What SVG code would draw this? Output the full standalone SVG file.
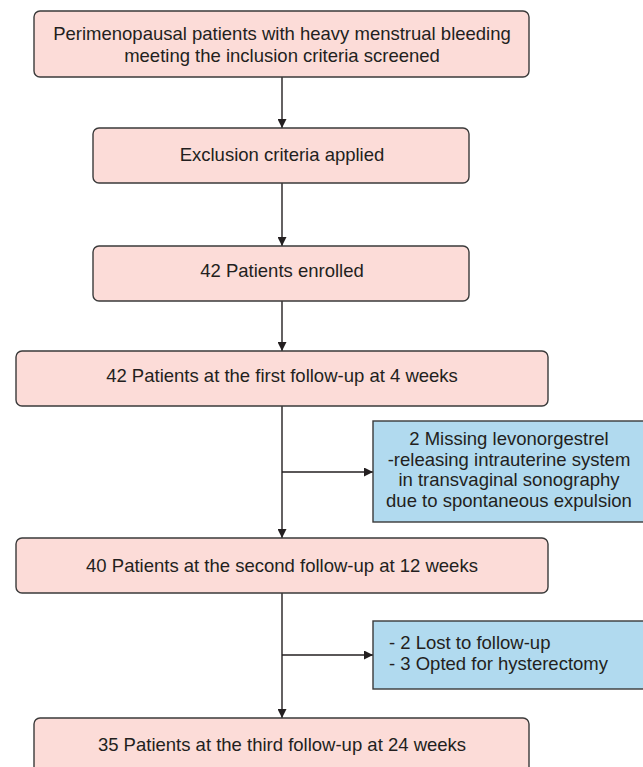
<svg xmlns="http://www.w3.org/2000/svg" width="643" height="767" viewBox="0 0 643 767">
  <style>
    .pink { fill: #fcdcd8; stroke: #3a3a3a; stroke-width: 1.4; }
    .blue { fill: #b1daef; stroke: #3a3a3a; stroke-width: 1.4; }
    text { font-family: "Liberation Sans", Arial, sans-serif; font-size: 18.5px; fill: #231f20; }
    .c { text-anchor: middle; }
    .conn { stroke: #231f20; stroke-width: 1.4; fill: none; }
  </style>
  <defs>
    <marker id="arr" viewBox="0 0 10 10" refX="10" refY="5" markerWidth="9" markerHeight="9" markerUnits="userSpaceOnUse" orient="auto">
      <path d="M0,0 L10,5 L0,10 z" fill="#231f20"/>
    </marker>
  </defs>
  <rect width="643" height="767" fill="#ffffff"/>

  <g id="connectors">
    <line class="conn" x1="282" y1="77" x2="282" y2="128" marker-end="url(#arr)"/>
    <line class="conn" x1="282" y1="183" x2="282" y2="246" marker-end="url(#arr)"/>
    <line class="conn" x1="282" y1="301" x2="282" y2="351" marker-end="url(#arr)"/>
    <line class="conn" x1="282" y1="406" x2="282" y2="538" marker-end="url(#arr)"/>
    <line class="conn" x1="282" y1="472" x2="373" y2="472" marker-end="url(#arr)"/>
    <line class="conn" x1="282" y1="593" x2="282" y2="718" marker-end="url(#arr)"/>
    <line class="conn" x1="282" y1="655" x2="373" y2="655" marker-end="url(#arr)"/>
  </g>

  <g id="screened">
    <rect class="pink" x="34" y="11" width="495" height="66" rx="6"/>
    <text class="c" x="282" y="40">Perimenopausal patients with heavy menstrual bleeding</text>
    <text class="c" x="282" y="62">meeting the inclusion criteria screened</text>
  </g>
  <g id="exclusion">
    <rect class="pink" x="93" y="128" width="376" height="55" rx="6"/>
    <text class="c" x="282" y="161">Exclusion criteria applied</text>
  </g>
  <g id="enrolled">
    <rect class="pink" x="93" y="246" width="376" height="55" rx="6"/>
    <text class="c" x="282" y="277">42 Patients enrolled</text>
  </g>
  <g id="followup1">
    <rect class="pink" x="16" y="351" width="532" height="55" rx="6"/>
    <text class="c" x="282" y="382">42 Patients at the first follow-up at 4 weeks</text>
  </g>
  <g id="excluded1">
    <rect class="blue" x="373" y="421" width="273" height="101"/>
    <text class="c" x="509" y="445">2 Missing levonorgestrel</text>
    <text class="c" x="509" y="466">-releasing intrauterine system</text>
    <text class="c" x="509" y="486">in transvaginal sonography</text>
    <text class="c" x="509" y="507">due to spontaneous expulsion</text>
  </g>
  <g id="followup2">
    <rect class="pink" x="16" y="538" width="532" height="55" rx="6"/>
    <text class="c" x="282" y="572">40 Patients at the second follow-up at 12 weeks</text>
  </g>
  <g id="excluded2">
    <rect class="blue" x="373" y="621" width="273" height="68"/>
    <text x="389" y="649">- 2 Lost to follow-up</text>
    <text x="389" y="670">- 3 Opted for hysterectomy</text>
  </g>
  <g id="followup3">
    <rect class="pink" x="34" y="718" width="495" height="60" rx="6"/>
    <text class="c" x="282" y="751">35 Patients at the third follow-up at 24 weeks</text>
  </g>
</svg>
